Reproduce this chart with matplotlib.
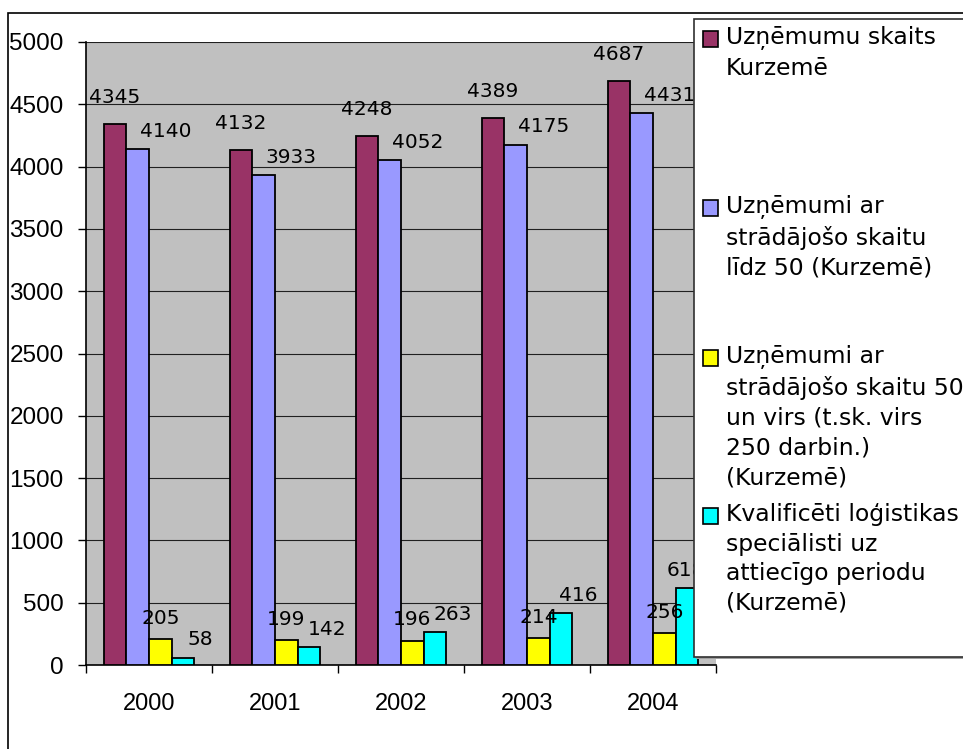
import matplotlib
matplotlib.use('Agg')
import matplotlib.pyplot as plt
from matplotlib.patches import Rectangle
import numpy as np

years = ['2000', '2001', '2002', '2003', '2004']
uznemumi_kopa = [4345, 4132, 4248, 4389, 4687]
lidz_50 = [4140, 3933, 4052, 4175, 4431]
virs_50 = [205, 199, 196, 214, 256]
logistikas_spec = [58, 142, 263, 416, 618]

series = [uznemumi_kopa, lidz_50, virs_50, logistikas_spec]
labels = ['Uzņēmumu skaits\nKurzemē',
          'Uzņēmumi ar\nstrādājošo skaitu\nlīdz 50 (Kurzemē)',
          'Uzņēmumi ar\nstrādājošo skaitu 50\nun virs (t.sk. virs\n250 darbin.)\n(Kurzemē)',
          'Kvalificēti loģistikas\nspeciālisti uz\nattiecīgo periodu\n(Kurzemē)']
colors = ['#993366', '#9999FF', '#FFFF00', '#00FFFF']
# label offsets for each series (dx in category units, dy in points)
lbl_dx = [0, 0.22, 0, 0.14]
lbl_dy = [12, 6, 8, 6]
lbl_xmax = 4.26  # Excel pushes labels back inside the plot area

W, H = 963, 749
fig = plt.figure(figsize=(W / 100, H / 100), dpi=100)


def fx(px):
    return px / W


def fy(py):
    return 1 - py / H


ax = fig.add_axes([fx(86), fy(665), fx(716) - fx(86), fy(42) - fy(665)])
ax.set_facecolor('#C0C0C0')

x = np.arange(len(years))
bw = 0.18
for i, vals in enumerate(series):
    pos = x + (i - 1.5) * bw
    ax.bar(pos, vals, bw, color=colors[i], edgecolor='black', linewidth=1.3, zorder=3)
    for xp, v in zip(pos, vals):
        ax.annotate(str(v), (min(xp + lbl_dx[i], lbl_xmax), v), xytext=(0, lbl_dy[i]),
                    textcoords='offset points', ha='center', va='bottom',
                    fontsize=14.5, family='DejaVu Sans', zorder=4, annotation_clip=False)

ax.set_xlim(-0.5, len(years) - 0.5)
ax.set_ylim(0, 5000)
ax.set_yticks(np.arange(0, 5001, 500))
ax.yaxis.grid(True, color='#202020', linewidth=0.8)
ax.set_axisbelow(True)

ax.set_xticks(x)
ax.set_xticklabels(years, fontsize=17, family='Liberation Sans')
ax.set_xticks(np.arange(-0.5, len(years)), minor=True)
ax.tick_params(axis='x', which='major', length=0, pad=20)
ax.tick_params(axis='x', which='minor', length=6, width=1, direction='out')
ax.tick_params(axis='y', length=6, width=1, direction='out', pad=10)
for t in ax.get_yticklabels():
    t.set_fontsize(17.5)
    t.set_family('Liberation Sans')

for s in ['top', 'right']:
    ax.spines[s].set_visible(False)
for s in ['left', 'bottom']:
    ax.spines[s].set_linewidth(1.2)

# outer chart border
fig.patches.append(Rectangle((fx(8), fy(760)), fx(980), fy(13) - fy(760),
                             transform=fig.transFigure, fill=False,
                             edgecolor='black', linewidth=1.2, zorder=1))

# legend box drawn by hand (Excel spreads entries over the box height)
fig.patches.append(Rectangle((fx(696), fy(659)), fx(300), fy(21) - fy(659),
                             transform=fig.transFigure, facecolor='#A0A0A0',
                             edgecolor='none', zorder=9))
fig.patches.append(Rectangle((fx(694), fy(657)), fx(300), fy(19) - fy(657),
                             transform=fig.transFigure, facecolor='white',
                             edgecolor='#303030', linewidth=1.2, zorder=10))
entry_top = [31, 200, 350, 508]
for lab, col, top in zip(labels, colors, entry_top):
    fig.patches.append(Rectangle((fx(703), fy(top + 16)), fx(15), fy(top) - fy(top + 16),
                                 transform=fig.transFigure, facecolor=col,
                                 edgecolor='black', linewidth=1.2, zorder=11))
    fig.text(fx(726), fy(top - 5), lab, ha='left', va='top', fontsize=16.9,
             family='DejaVu Sans', linespacing=1.37, zorder=12)

fig.savefig('out.png', dpi=100)
